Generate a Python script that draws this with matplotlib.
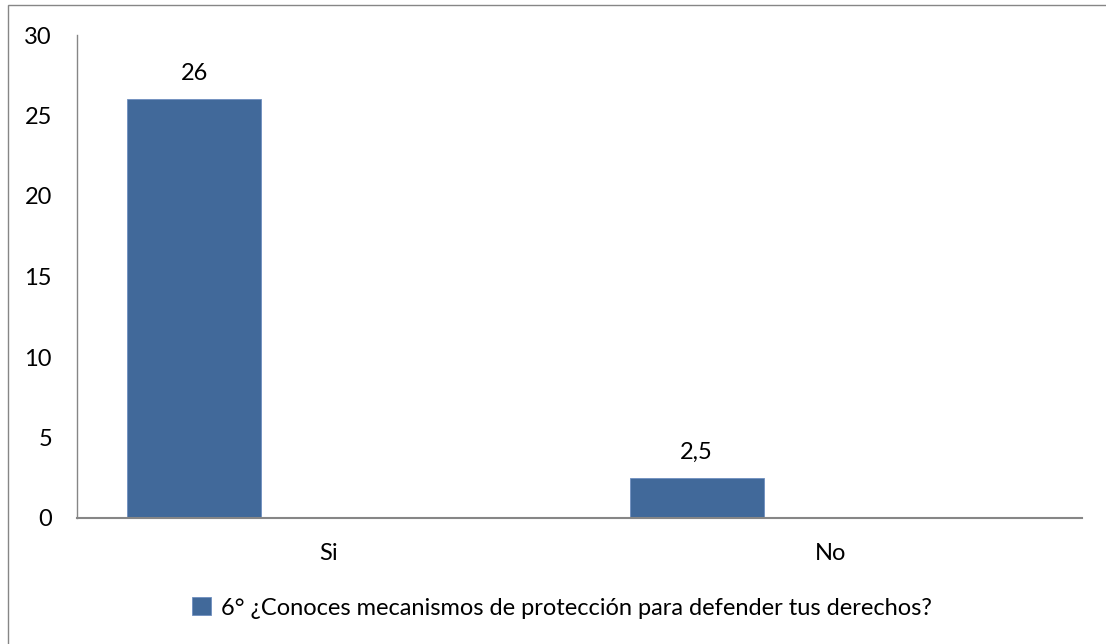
import matplotlib.pyplot as plt
from matplotlib.patches import Rectangle
import numpy as np

categories = ["Si", "No"]
values = [26, 2.5]
value_labels = ["26", "2,5"]
series_name = "6° ¿Conoces mecanismos de protección para defender tus derechos?"
y_ticks = [0, 5, 10, 15, 20, 25, 30]

W, H = 1106, 644
bar_color = "#41699A"
axis_color = "#868686"
f_size = 17

plt.rcParams['font.family'] = ['Lato', 'DejaVu Sans']

fig = plt.figure(figsize=(W / 100, H / 100), dpi=100)
ax = fig.add_axes([77 / W, 1 - 518 / H, (1082 - 77) / W, (518 - 35) / H])

x = np.arange(len(categories))
bar_w = 0.2667
bars = ax.bar(x - bar_w, values, width=bar_w, color=bar_color, edgecolor="#6f8fbf", linewidth=0.6)

for xi, v, lab in zip(x - bar_w, values, value_labels):
    ax.annotate(lab, (xi, v), xytext=(0, 11), textcoords="offset points",
                ha="center", va="bottom", fontsize=f_size)

ax.set_xlim(-0.5, len(categories) - 0.5)
ax.set_ylim(0, 30)
ax.set_yticks(y_ticks)
ax.set_xticks(x)
ax.set_xticklabels(categories)
ax.tick_params(axis='both', length=0, labelsize=f_size)
ax.tick_params(axis='y', pad=18)
ax.tick_params(axis='x', pad=18)
for pos in ['right', 'top']:
    ax.spines[pos].set_visible(False)
for pos in ['left', 'bottom']:
    ax.spines[pos].set_color(axis_color)
ax.spines['left'].set_linewidth(1.0)
ax.spines['bottom'].set_linewidth(1.5)

leg = fig.legend([bars], [series_name], loc="center", bbox_to_anchor=(562 / W, 1 - 608 / H),
                 frameon=False, fontsize=f_size, handlelength=0.8, handleheight=0.8,
                 handletextpad=0.4)

# outer chart border
fig.patches.append(Rectangle((8 / W, -0.1), 1.2, 1 - 5 / H + 0.1, transform=fig.transFigure,
                             fill=False, edgecolor=axis_color, linewidth=1.0))

plt.savefig("out.png", dpi=100)
